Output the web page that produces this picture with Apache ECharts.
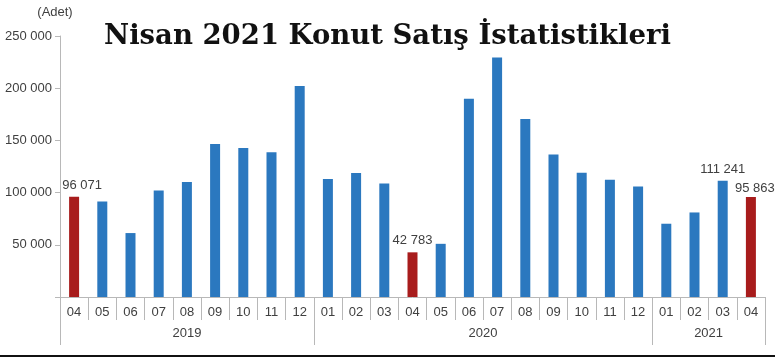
<!DOCTYPE html>
<html>
<head>
<meta charset="utf-8">
<script src="https://cdn.jsdelivr.net/npm/echarts@6/dist/echarts.min.js"></script>
<style>html,body{margin:0;padding:0;background:#fff;}#c{width:775px;height:359px;}</style>
</head>
<body>
<div id="c"></div>
<script>
var months = ['04','05','06','07','08','09','10','11','12','01','02','03','04','05','06','07','08','09','10','11','12','01','02','03','04'];
var sales = [96071, 91534, 61240, 102014, 110123, 146626, 142611, 138724, 201998, 113135, 118753, 108670, 42783, 50936, 190012, 229357, 170485, 136534, 118934, 112228, 105888, 70181, 80976, 111241, 95863];
var highlighted = [0, 12, 24];
var labelled = [0, 12, 23, 24];
var years = ['2019', '2020', '2021'];
var yearStarts = [0, 9, 21, 25];
var yTicks = [0, 50000, 100000, 150000, 200000, 250000];

var BLUE = '#2b78bf', RED = '#a81c1c', AXIS = '#b8b8b8', TXT = '#404040';
function fmt(v){ return String(v).replace(/\B(?=(\d{3})+(?!\d))/g, ' '); }
var labelOffsets = { 0: [8, 0], 12: [0, 0], 23: [0, 0], 24: [4, 3] };

var yearCenters = [], yearByCenter = {};
for (var i = 0; i < years.length; i++) {
  var c = (yearStarts[i] + yearStarts[i+1]) / 2;
  yearCenters.push(c); yearByCenter[c] = years[i];
}

var data = sales.map(function(v, i){
  var d = { value: v, itemStyle: { color: highlighted.indexOf(i) >= 0 ? RED : BLUE } };
  if (labelled.indexOf(i) >= 0) {
    d.label = { show: true, position: 'top', distance: 5, offset: labelOffsets[i],
      formatter: function(p){ return fmt(p.value); } };
  }
  return d;
});

var chart = echarts.init(document.getElementById('c'));
chart.setOption({
  animation: false,
  textStyle: { fontFamily: 'Liberation Sans, Arial, sans-serif' },
  title: {
    text: 'Nisan 2021 Konut Satış İstatistikleri',
    left: 'center', top: 18,
    textStyle: { fontFamily: 'DejaVu Serif, serif', fontWeight: 'bold', fontSize: 27.5, color: '#111' }
  },
  grid: { left: 60, right: 10, top: 36, bottom: 62, containLabel: false },
  xAxis: [{
    type: 'category', data: months, position: 'bottom',
    axisLine: { show: true, lineStyle: { color: AXIS, width: 1 } },
    axisTick: { show: true, length: 23, lineStyle: { color: AXIS } },
    axisLabel: { color: TXT, fontSize: 13, margin: 9 }
  }, {
    type: 'value', min: 0, max: 25, position: 'bottom', gridIndex: 0,
    axisLine: { show: false },
    splitLine: { show: false },
    axisTick: { show: true, length: 48, customValues: yearStarts, lineStyle: { color: AXIS } },
    axisLabel: { show: true, customValues: yearCenters, color: TXT, fontSize: 13, margin: 30,
      formatter: function(v){ return yearByCenter[v] || ''; } }
  }],
  yAxis: {
    type: 'value', min: 0, max: 250000, interval: 50000,
    name: '(Adet)', nameLocation: 'end', nameGap: 17,
    nameTextStyle: { color: TXT, fontSize: 13, padding: [0, 10, 0, 0] },
    axisLine: { show: true, lineStyle: { color: AXIS } },
    axisTick: { show: true, length: 5, lineStyle: { color: AXIS } },
    splitLine: { show: false },
    axisLabel: { color: TXT, fontSize: 13, margin: 8,
      formatter: function(v){ return v === 0 ? '' : fmt(v); } }
  },
  series: [{
    type: 'bar', data: data, barWidth: 10, xAxisIndex: 0,
    label: { color: TXT, fontSize: 13 }
  }],
  graphic: [{
    type: 'rect', shape: { x: 0, y: 355, width: 775, height: 2 }, style: { fill: '#111' }
  }]
});
</script>
</body>
</html>
